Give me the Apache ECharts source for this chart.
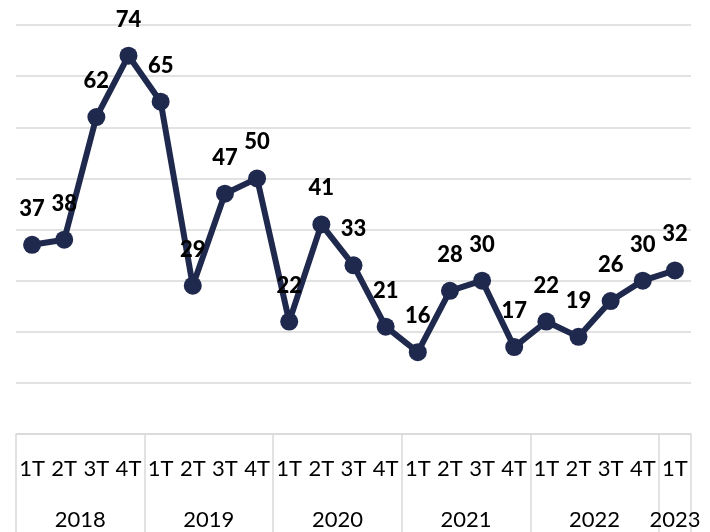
<!DOCTYPE html>
<html>
<head>
<meta charset="utf-8">
<script src="https://cdn.jsdelivr.net/npm/echarts@6/dist/echarts.min.js"></script>
<style>
  html, body { margin: 0; padding: 0; background: #ffffff; }
  #chart { width: 710px; height: 532px; }
</style>
</head>
<body>
<div id="chart"></div>
<script>
// ---- data ----
var quarters = ['1T','2T','3T','4T','1T','2T','3T','4T','1T','2T','3T','4T','1T','2T','3T','4T','1T','2T','3T','4T','1T'];
var values = [37, 38, 62, 74, 65, 29, 47, 50, 22, 41, 33, 21, 16, 28, 30, 17, 22, 19, 26, 30, 32];
var years = ['2018', '2019', '2020', '2021', '2022', '2023'];
var quartersPerYear = [4, 4, 4, 4, 4, 1];
var yTicks = [0, 10, 20, 30, 40, 50, 60, 70, 80];

// ---- build the grouped (year) axis on half-quarter units ----
var nHalf = quarters.length * 2 + 1;        // positions at boundaries and centres
var yearLabels = new Array(nHalf).fill('');
var boundaries = {};
var pos = 0;
boundaries[0] = true;
for (var i = 0; i < years.length; i++) {
  yearLabels[pos + quartersPerYear[i]] = years[i]; // centre of group
  pos += quartersPerYear[i] * 2;
  boundaries[pos] = true;
}

var GRID = '#D9D9D9';
var NAVY = '#1F294D';
var FONT = 'Lato, "Open Sans", sans-serif';

var chart = echarts.init(document.getElementById('chart'), null, { renderer: 'canvas' });
chart.setOption({
  animation: false,
  backgroundColor: '#ffffff',
  grid: { left: 16, right: 19, top: 25, bottom: 98, containLabel: false },
  xAxis: [
    {
      type: 'category',
      data: quarters,
      boundaryGap: true,
      axisLine: { show: false },
      axisTick: { show: false },
      axisLabel: { interval: 0, margin: 24, fontSize: 22, color: '#000000', fontFamily: FONT }
    },
    {
      type: 'category',
      data: yearLabels,
      boundaryGap: false,
      position: 'bottom',
      axisLine: { show: true, lineStyle: { color: GRID, width: 1.5 } },
      axisTick: {
        show: true,
        length: 98,
        interval: function (idx) { return !!boundaries[idx]; },
        lineStyle: { color: GRID, width: 1.5 }
      },
      axisLabel: { interval: 0, margin: 75, fontSize: 22, color: '#000000', fontFamily: FONT }
    }
  ],
  yAxis: {
    type: 'value',
    min: yTicks[0],
    max: yTicks[yTicks.length - 1],
    interval: yTicks[1] - yTicks[0],
    axisLine: { show: false },
    axisTick: { show: false },
    axisLabel: { show: false },
    splitLine: { show: true, lineStyle: { color: GRID, width: 1.5 } }
  },
  series: [
    {
      type: 'line',
      xAxisIndex: 0,
      data: values,
      symbol: 'circle',
      symbolSize: 18,
      lineStyle: { color: NAVY, width: 6 },
      itemStyle: { color: NAVY },
      label: {
        show: true,
        position: 'top',
        distance: 16,
        fontSize: 22,
        fontWeight: 900,
        color: '#000000',
        fontFamily: FONT
      },
      z: 3
    }
  ]
});
</script>
</body>
</html>
